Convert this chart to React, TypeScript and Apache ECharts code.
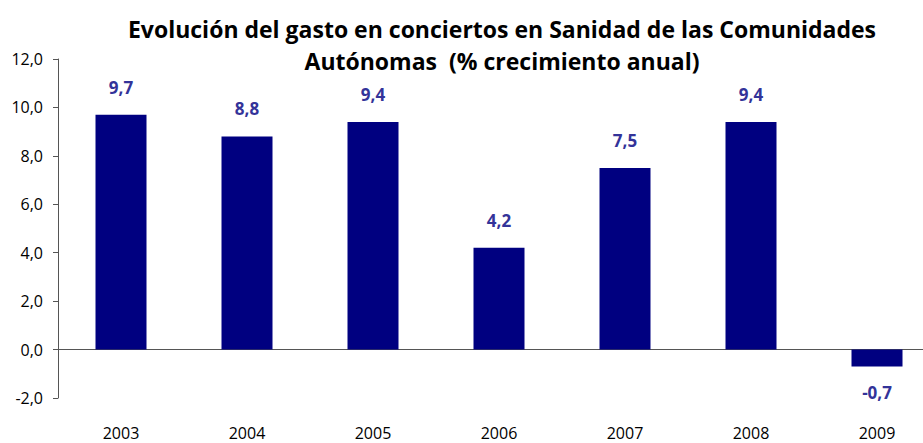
import React, { useEffect, useRef } from "react";
import * as echarts from "echarts";

const categories = ["2003", "2004", "2005", "2006", "2007", "2008", "2009"];
const values = [9.7, 8.8, 9.4, 4.2, 7.5, 9.4, -0.7];
const titleText = "Evolución del gasto en conciertos en Sanidad de las Comunidades\nAutónomas  (% crecimiento anual)";

const FONT = "'Open Sans', Lato, sans-serif";

export default function App() {
  const ref = useRef<HTMLDivElement>(null);
  useEffect(() => {
    if (!ref.current) return;
    const chart = echarts.init(ref.current, null, { renderer: "svg" });
    chart.setOption({
      animation: false,
      backgroundColor: "#ffffff",
      title: {
        text: titleText,
        left: 497,
        textAlign: "center",
        top: 8,
        textStyle: {
          fontFamily: FONT,
          fontSize: 23,
          fontWeight: "bold",
          color: "#000000",
          lineHeight: 32,
        },
      },
      grid: { left: 58, top: 59, width: 882, height: 339, outerBoundsMode: "none", containLabel: false },
      xAxis: {
        type: "category",
        data: categories,
        axisLine: { onZero: true, lineStyle: { color: "#555555", width: 1 } },
        axisTick: { show: false },
        axisLabel: {
          margin: 27,
          fontFamily: FONT,
          fontSize: 16,
          color: "#000000",
        },
      },
      yAxis: {
        type: "value",
        min: -2,
        max: 12,
        interval: 2,
        splitLine: { show: false },
        axisLine: { show: true, lineStyle: { color: "#555555", width: 1 } },
        axisTick: { show: true, length: 5, lineStyle: { color: "#555555" } },
        axisLabel: {
          fontFamily: FONT,
          fontSize: 16,
          color: "#000000",
          margin: 15,
          formatter: (v: number) => v.toFixed(1).replace(".", ","),
        },
      },
      series: [
        {
          type: "bar",
          data: values.map((v) => ({
            value: v,
            label: v < 0 ? { position: "bottom", distance: 17 } : undefined,
          })),
          barWidth: 51,
          itemStyle: { color: "#000080" },
          label: {
            show: true,
            position: "top",
            distance: 19,
            fontFamily: FONT,
            fontSize: 17,
            fontWeight: "bold",
            color: "#333399",
            formatter: (p: any) => Number(p.value).toFixed(1).replace(".", ","),
          },
        },
      ],
    });
    return () => chart.dispose();
  }, []);
  return (
    <div
      ref={ref}
      style={{ position: "absolute", left: 0, top: 0, width: 923, height: 443 }}
    />
  );
}
